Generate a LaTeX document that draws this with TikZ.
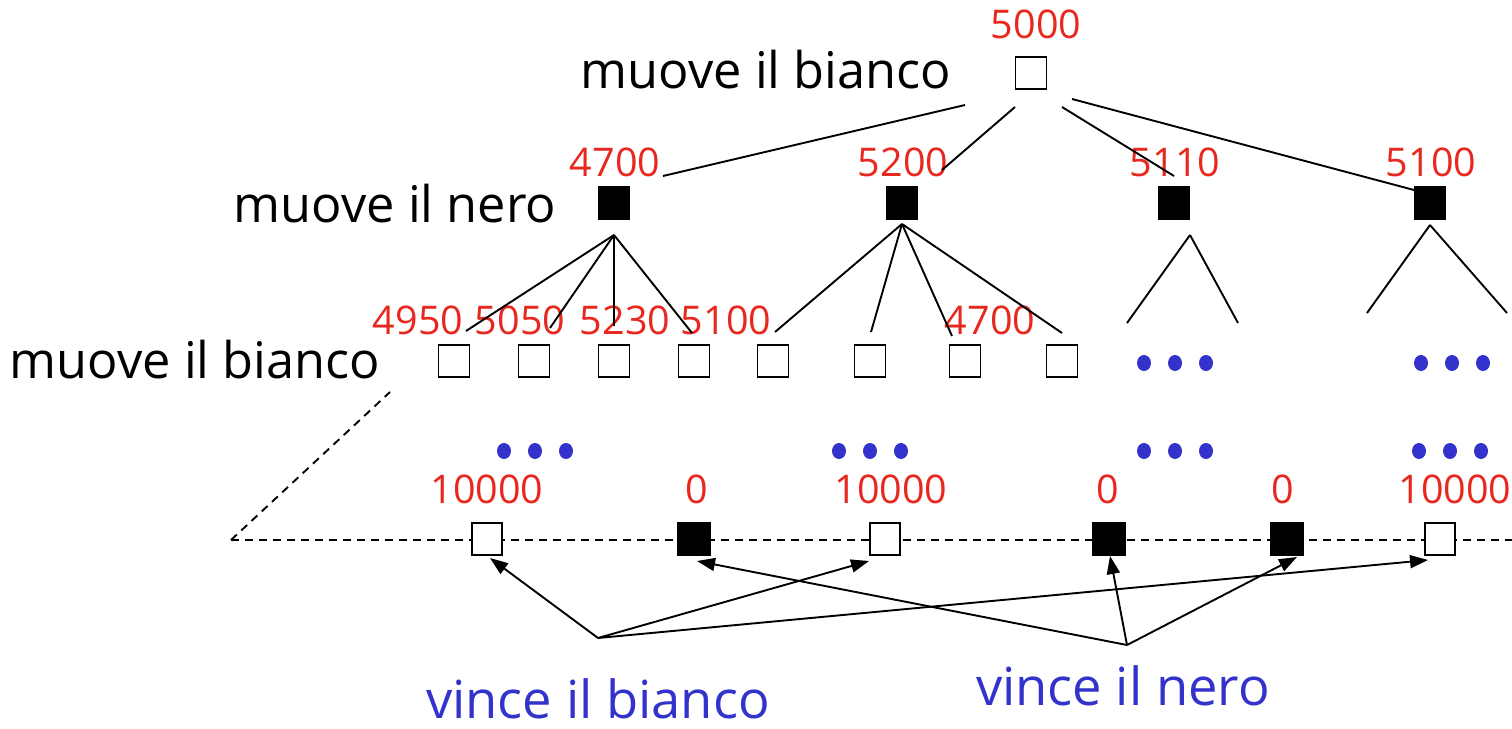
\documentclass[tikz,border=0pt]{standalone}
\usepackage{fontspec}
\setmainfont{Open Sans}
\usetikzlibrary{arrows.meta}
\definecolor{valred}{RGB}{232,40,30}
\definecolor{winblue}{RGB}{51,51,204}
\begin{document}
\begin{tikzpicture}[x=1pt,y=-1pt,
  wbox/.style={draw, line width=1.8pt, fill=white, minimum width=31pt, minimum height=32pt, inner sep=0pt},
  bbox/.style={wbox, fill=black},
  val/.style={text=valred, font=\fontsize{39.5}{42}\selectfont, anchor=base, inner sep=0pt},
  who/.style={font=\fontsize{50.5}{54}\selectfont, anchor=base, inner sep=0pt},
  win/.style={who, text=winblue, font=\fontsize{52.5}{56}\selectfont},
  treeline/.style={line width=1.9pt},
  horizon/.style={line width=1.9pt, dash pattern=on 8pt off 6pt},
  arr/.style={line width=1.9pt, -{Triangle[length=18pt,width=13pt]}},
  ]
\useasboundingbox (0,0) rectangle (1512,728);

% ---- side captions
\node[who] (t0) at (766,88) {muove il bianco};
\node[who] (t1) at (395,222) {muove il nero};
\node[who] (t2) at (195,378) {muove il bianco};

% ---- root
\node[wbox] (r) at (1031,73) {};
\node[val] (vr) at (1036,38) {5000};

% ---- black level
\foreach \n/\x/\v in {a/614/4700, b/902/5200, c/1174/5110, d/1430/5100}{
  \node[bbox] (\n) at (\x,203) {};
  \node[val] (v\n) at (\x+1,176) {\v};
}

% ---- white level
\foreach \n/\x in {w1/454, w2/534, w3/614, w4/694, w5/773, w6/870, w7/965, w8/1062}{
  \node[wbox] (\n) at (\x,361) {};
}
\node[val] (vw1) at (418,334) {4950};
\node[val] (vw2) at (520,334) {5050};
\node[val] (vw3) at (625,334) {5230};
\node[val] (vw4) at (726,334) {5100};
\node[val] (vw7) at (990,334) {4700};

% ---- root to black level
\coordinate (r1) at (965,105);  \coordinate (a0) at (663,176);
\coordinate (r2) at (1015,107); \coordinate (b0) at (942,170);
\coordinate (r3) at (1062,107); \coordinate (c0) at (1174,176);
\coordinate (r4) at (1072,99);  \coordinate (d0) at (1414,190);
\draw[treeline] (r1) -- (a0) (r2) -- (b0) (r3) -- (c0) (r4) -- (d0);

% ---- black level to white level
\coordinate (ta) at (614,235);
\coordinate (tb) at (902,224);
\coordinate (tc) at (1190,235);
\coordinate (td) at (1430,225);
\coordinate (a1) at (466,331); \coordinate (a2) at (550,328);
\coordinate (a3) at (614,326); \coordinate (a4) at (692,333);
\coordinate (b1) at (775,332); \coordinate (b2) at (871,332);
\coordinate (b3) at (952,336); \coordinate (b4) at (1062,333);
\coordinate (c1) at (1127,323); \coordinate (c2) at (1238,323);
\coordinate (d1) at (1367,313); \coordinate (d2) at (1507,313);
\foreach \e in {a1,a2,a3,a4}{\draw[treeline] (ta) -- (\e);}
\foreach \e in {b1,b2,b3,b4}{\draw[treeline] (tb) -- (\e);}
\foreach \e in {c1,c2}{\draw[treeline] (tc) -- (\e);}
\foreach \e in {d1,d2}{\draw[treeline] (td) -- (\e);}

% ---- ellipsis dots
\foreach \cx/\cy in {1175/363, 1452/363, 535/451, 870/451, 1175/451, 1450/451}{
  \foreach \dx in {-31,0,31}{
    \fill[winblue] (\cx+\dx,\cy) ellipse (7pt and 8pt);
  }
}

% ---- terminal horizon
\coordinate (h0) at (231,540);
\coordinate (h1) at (390,392);
\coordinate (h2) at (1512,540);
\draw[horizon] (h0) -- (h1);
\draw[horizon] (h0) -- (h2);

\node[wbox, minimum width=30pt] (e1) at (487,539) {};
\node[bbox, minimum width=32pt] (e2) at (694,539) {};
\node[wbox, minimum width=30pt] (e3) at (885,539) {};
\node[bbox, minimum width=32pt] (e4) at (1109,539) {};
\node[bbox, minimum width=32pt] (e5) at (1287,539) {};
\node[wbox, minimum width=30pt] (e6) at (1440,539) {};
\node[val] (ve1) at (487,503) {10000};
\node[val] (ve2) at (697,503) {0};
\node[val] (ve3) at (891,503) {10000};
\node[val] (ve4) at (1108,503) {0};
\node[val] (ve5) at (1283,503) {0};
\node[val] (ve6) at (1455,503) {10000};

% ---- outcome arrows
\coordinate (sb) at (598,638);
\coordinate (sn) at (1127,645);
\coordinate (p1) at (490,558);
\coordinate (p3) at (869,561);
\coordinate (p6) at (1428,560);
\coordinate (p2) at (697,561);
\coordinate (p4) at (1110,556);
\coordinate (p5) at (1297,557);
\draw[arr] (sb) -- (p1);
\draw[arr] (sb) -- (p3);
\draw[arr] (sb) -- (p6);
\draw[arr] (sn) -- (p2);
\draw[arr] (sn) -- (p4);
\draw[arr] (sn) -- (p5);

\node[win] (wb) at (598,718) {vince il bianco};
\node[win] (wn) at (1123,705) {vince il nero};
\end{tikzpicture}
\end{document}
